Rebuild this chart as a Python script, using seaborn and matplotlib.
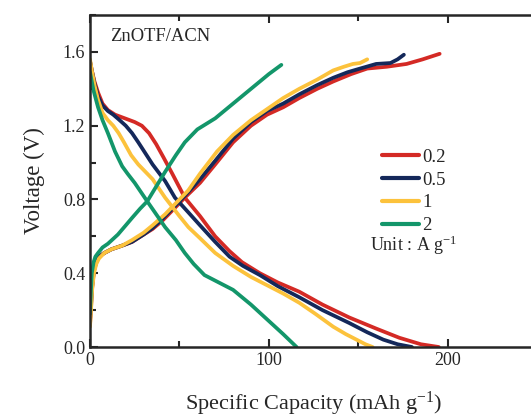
import matplotlib
matplotlib.use("Agg")
import matplotlib.pyplot as plt
import pandas as pd
import seaborn as sns
from matplotlib.ticker import MultipleLocator

# Rates (A g-1) and colours
rates = ["0.2", "0.5", "1", "2"]
colors = ["#d42a25", "#14285a", "#fcc23c", "#13966a"]

# Discharge curves (capacity mAh g-1, voltage V)
dis_x_02 = [0, 1, 2.5, 4.5, 7, 10, 14, 19.5, 25, 29, 33, 37, 41, 46, 53, 61.5, 70, 78, 85, 95, 105, 117, 130, 145, 160, 173, 185, 195]
dis_y_02 = [1.55, 1.50, 1.44, 1.38, 1.32, 1.285, 1.26, 1.24, 1.22, 1.20, 1.16, 1.10, 1.03, 0.94, 0.81, 0.71, 0.60, 0.52, 0.46, 0.40, 0.35, 0.30, 0.23, 0.16, 0.10, 0.05, 0.015, 0.0]
dis_x_05 = [0, 1, 2.5, 4.5, 7, 10, 13, 16, 20, 23.5, 27, 31, 35, 42, 47.5, 55, 61.5, 70, 78, 85.5, 95, 105, 117, 130, 145, 155, 164, 172, 180]
dis_y_05 = [1.55, 1.50, 1.43, 1.36, 1.31, 1.28, 1.26, 1.235, 1.20, 1.16, 1.11, 1.05, 0.99, 0.90, 0.81, 0.73, 0.66, 0.57, 0.49, 0.44, 0.39, 0.33, 0.27, 0.20, 0.13, 0.08, 0.04, 0.015, 0.0]
dis_x_1 = [0, 1, 2.5, 4.5, 7, 10, 13, 16, 19, 23, 27, 31, 35, 42, 50, 55, 61.5, 70, 80, 90, 100, 108, 117, 126, 136, 143, 149, 154, 158]
dis_y_1 = [1.56, 1.50, 1.42, 1.34, 1.27, 1.23, 1.20, 1.16, 1.11, 1.04, 0.99, 0.95, 0.91, 0.81, 0.71, 0.65, 0.59, 0.51, 0.44, 0.38, 0.33, 0.29, 0.24, 0.18, 0.11, 0.07, 0.04, 0.015, 0.0]
dis_x_2 = [0, 2, 4.5, 7, 10, 14, 18, 21, 25, 32, 37, 42, 48, 53, 58, 64, 72, 80, 90, 99, 108, 115.5]
dis_y_2 = [1.49, 1.39, 1.30, 1.23, 1.16, 1.06, 0.98, 0.94, 0.89, 0.79, 0.72, 0.65, 0.58, 0.51, 0.45, 0.39, 0.35, 0.31, 0.23, 0.15, 0.07, 0.0]

# Charge curves
chg_x_02 = [0, 0.5, 1.2, 2.2, 3.5, 5, 8, 12, 18, 23.5, 30, 35, 41, 46, 53, 61.5, 70, 80, 90, 99, 108, 117, 127, 136, 146, 155, 166, 177, 186, 195.5]
chg_y_02 = [0.12, 0.20, 0.32, 0.41, 0.46, 0.49, 0.51, 0.53, 0.55, 0.57, 0.61, 0.64, 0.69, 0.74, 0.81, 0.89, 0.99, 1.11, 1.20, 1.26, 1.30, 1.35, 1.40, 1.44, 1.48, 1.51, 1.52, 1.535, 1.56, 1.59]
chg_x_05 = [0, 0.5, 1.2, 2.2, 3.5, 5, 8, 12, 18, 23.5, 30, 35, 41, 46, 53, 61.5, 70, 80, 90, 99, 108, 117, 127, 136, 144, 151, 160, 168, 172, 175.5]
chg_y_05 = [0.14, 0.22, 0.33, 0.42, 0.46, 0.49, 0.51, 0.53, 0.55, 0.57, 0.61, 0.645, 0.70, 0.75, 0.82, 0.91, 1.01, 1.13, 1.22, 1.28, 1.32, 1.37, 1.42, 1.46, 1.49, 1.51, 1.535, 1.54, 1.56, 1.585]
chg_x_1 = [0, 0.5, 1.2, 2.2, 3.5, 5, 8, 12, 18, 23.5, 30, 35, 42, 50, 55, 61.5, 71, 80, 90, 99, 108, 117, 127, 136, 142, 147, 151, 155]
chg_y_1 = [0.11, 0.19, 0.31, 0.40, 0.45, 0.48, 0.51, 0.53, 0.55, 0.58, 0.62, 0.66, 0.72, 0.80, 0.85, 0.94, 1.06, 1.15, 1.23, 1.29, 1.35, 1.40, 1.45, 1.50, 1.52, 1.535, 1.54, 1.56]
chg_x_2 = [0, 0.4, 1, 2, 3, 4.5, 7, 10, 15.6, 20, 23.5, 28, 32, 37, 42, 48, 53, 60, 65, 70, 75, 80, 90, 100, 107]
chg_y_2 = [0.18, 0.28, 0.40, 0.46, 0.49, 0.51, 0.54, 0.56, 0.61, 0.66, 0.70, 0.75, 0.79, 0.87, 0.95, 1.04, 1.11, 1.18, 1.21, 1.24, 1.28, 1.32, 1.40, 1.48, 1.53]

discharge = [(dis_x_02, dis_y_02), (dis_x_05, dis_y_05), (dis_x_1, dis_y_1), (dis_x_2, dis_y_2)]
charge = [(chg_x_02, chg_y_02), (chg_x_05, chg_y_05), (chg_x_1, chg_y_1), (chg_x_2, chg_y_2)]

sns.set_style("ticks")
plt.rcParams["font.family"] = ["Liberation Serif", "DejaVu Serif"]
plt.rcParams["mathtext.fontset"] = "custom"
plt.rcParams["mathtext.rm"] = "Liberation Serif"
plt.rcParams["mathtext.it"] = "Liberation Serif:italic"

fig = plt.figure(figsize=(5.31, 4.19), dpi=100)
ax = fig.add_axes([0.1695, 0.1718, 0.842, 0.7922])

lw = 2.7
for rate, color, (dx, dy), (cx, cy) in zip(rates, colors, discharge, charge):
    d = pd.DataFrame({"x": dx, "y": dy})
    c = pd.DataFrame({"x": cx, "y": cy})
    sns.lineplot(data=d, x="x", y="y", ax=ax, color=color, lw=lw, sort=False,
                 estimator=None, label=rate, solid_capstyle="round", solid_joinstyle="round")
    sns.lineplot(data=c, x="x", y="y", ax=ax, color=color, lw=lw, sort=False,
                 estimator=None, solid_capstyle="round", solid_joinstyle="round")

ax.set_xlim(0, 250)
ax.set_ylim(0, 1.8)
ax.xaxis.set_major_locator(MultipleLocator(100))
ax.xaxis.set_minor_locator(MultipleLocator(50))
ax.yaxis.set_major_locator(MultipleLocator(0.4))
ax.yaxis.set_minor_locator(MultipleLocator(0.2))
ax.yaxis.set_major_formatter(plt.FormatStrFormatter("%.1f"))
ax.tick_params(which="both", direction="in", top=True, right=False, width=1.5, labelsize=13)
ax.tick_params(which="major", length=6)
ax.tick_params(which="minor", length=4, labelbottom=False)
for s in ax.spines.values():
    s.set_linewidth(1.8)

ax.set_xlabel("Specific Capacity (mAh g$^{-1}$)", fontsize=16, labelpad=15)
ax.set_ylabel("Voltage (V)", fontsize=16.5, labelpad=13)

ax.text(0.045, 0.96, "ZnOTF/ACN", transform=ax.transAxes, fontsize=13.4, va="top", ha="left")

leg = ax.legend(loc="upper left", bbox_to_anchor=(0.636, 0.62), frameon=False, fontsize=13.5,
                handlelength=2.0, handletextpad=0.15, labelspacing=0.3, borderaxespad=0)
for line in leg.get_lines():
    line.set_linewidth(3)
ax.text(0.626, 0.307, "Unit : A g$^{-1}$", transform=ax.transAxes, fontsize=13, va="center", ha="left")

fig.savefig("out.png", dpi=100)
